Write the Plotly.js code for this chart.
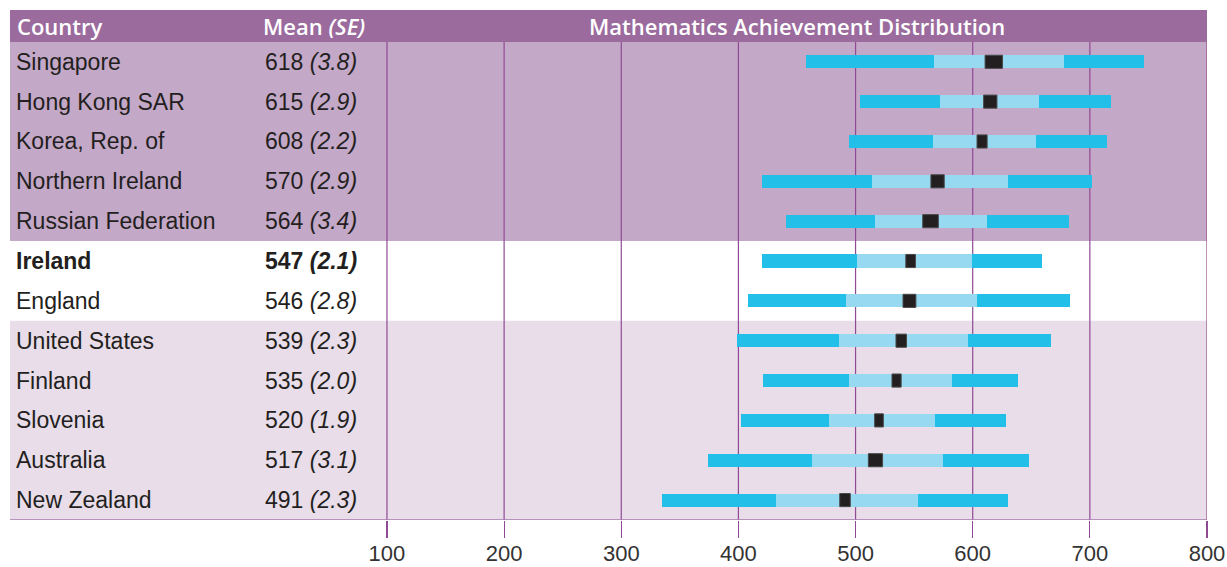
<!DOCTYPE html>
<html><head><meta charset="utf-8">
<script src="https://cdn.plot.ly/plotly-3.0.1.min.js"></script>
<style>html,body{margin:0;padding:0;background:#fff}#chart{width:1227px;height:567px}</style>
</head><body><div id="chart"></div>
<script>
// ---- data ----
const countries = ["Singapore","Hong Kong SAR","Korea, Rep. of","Northern Ireland","Russian Federation","Ireland","England","United States","Finland","Slovenia","Australia","New Zealand"];
const means = [618,615,608,570,564,547,546,539,535,520,517,491];
const se    = [3.8,2.9,2.2,2.9,3.4,2.1,2.8,2.3,2.0,1.9,3.1,2.3];
const p5    = [458,504,494,420,441,420,408,399,421,402,374,335];
const p25   = [567,572,566,514,517,501,492,486,494,477,463,432];
const p75   = [678,657,654,630,612,599,604,596,582,568,575,553];
const p95   = [746,718,715,702,682,659,683,667,639,628,648,630];
const tickVals = [100,200,300,400,500,600,700,800];
const highlight = "Ireland";
const topGroup = ["Singapore","Hong Kong SAR","Korea, Rep. of","Northern Ireland","Russian Federation"];
const bottomGroup = ["United States","Finland","Slovenia","Australia","New Zealand"];

// ---- styles ----
const C = {
  header:"#9b6b9e", top:"#c4a8c8", bottom:"#e8dde9",
  dark:"#22c0e8", light:"#97d9f1", mean:"#231f20",
  grid:"#904a95", text:"#231f20"
};
const FONT = "Liberation Sans, Arial, sans-serif";
const HFONT = "Open Sans, Liberation Sans, sans-serif";
const BW = 0.33;

function seg(base, len, color, line) {
  return {type:"bar", orientation:"h", y:countries, base:base, x:len, width:BW,
    marker:{color:color, line:line||{width:0}}, hoverinfo:"skip", showlegend:false};
}
const ci = se.map(s => 1.96*s);
const traces = [
  seg(p5, p25.map((v,i)=>v-p5[i]), C.dark),
  seg(p25, p75.map((v,i)=>v-p25[i]), C.light),
  seg(p75, p95.map((v,i)=>v-p75[i]), C.dark),
  seg(means.map((m,i)=>m-ci[i]), ci.map(c=>2*c), C.mean, {width:1, color:"#4a4a4a"})
];

const n = countries.length;
const idx = c => countries.indexOf(c);
const shapes = [];
shapes.push({type:"rect", xref:"paper", yref:"y", x0:0, x1:1, y0:-1.3, y1:-0.5, fillcolor:C.header, line:{width:0}, layer:"below"});
shapes.push({type:"rect", xref:"paper", yref:"y", x0:0, x1:1, y0:idx(topGroup[0])-0.5, y1:idx(topGroup[topGroup.length-1])+0.5, fillcolor:C.top, line:{width:0}, layer:"below"});
shapes.push({type:"rect", xref:"paper", yref:"y", x0:0, x1:1, y0:idx(bottomGroup[0])-0.5, y1:idx(bottomGroup[bottomGroup.length-1])+0.5, fillcolor:C.bottom, line:{width:0}, layer:"below"});
tickVals.forEach(v => shapes.push({type:"line", xref:"x", yref:"y", x0:v, x1:v, y0:-0.5, y1:n-0.5, line:{color:C.grid, width:1.2}, layer:"below"}));
shapes.push({type:"line", xref:"paper", yref:"y", x0:0, x1:1, y0:n-0.5, y1:n-0.5, line:{color:"#a57aae", width:1.5}, layer:"above"});

const annotations = [];
const hdrFont = {family:HFONT, size:22, color:"#ffffff", weight:600};
annotations.push({xref:"paper", yref:"y", x:0.004, y:-0.9, xanchor:"left", yanchor:"middle", text:"Country", showarrow:false, font:hdrFont});
annotations.push({xref:"paper", yref:"y", x:0.2985, y:-0.9, xanchor:"right", yanchor:"middle", text:"Mean <i>(SE)</i>", showarrow:false, font:hdrFont});
annotations.push({xref:"x", yref:"y", x:(tickVals[0]+tickVals[tickVals.length-1])/2, y:-0.9, xanchor:"center", yanchor:"middle", text:"Mathematics Achievement Distribution", showarrow:false, font:hdrFont});
countries.forEach((c,i) => {
  const b = c === highlight;
  const f = {family:FONT, size:23, color:C.text};
  annotations.push({xref:"paper", yref:"y", x:0.0035, y:i, xanchor:"left", yanchor:"middle", showarrow:false, font:f,
    text: b ? "<b>"+c+"</b>" : c});
  const t = means[i] + " <i>(" + se[i].toFixed(1) + ")</i>";
  annotations.push({xref:"paper", yref:"y", x:0.2917, y:i, xanchor:"right", yanchor:"middle", showarrow:false, font:f,
    text: b ? "<b>"+t+"</b>" : t});
});

const layout = {
  width:1227, height:567,
  margin:{l:10, r:20, t:10, b:47},
  paper_bgcolor:"#ffffff", plot_bgcolor:"rgba(0,0,0,0)",
  barmode:"overlay", bargap:0,
  showlegend:false,
  xaxis:{range:[-221.8, 800], tickvals:tickVals, ticks:"outside", ticklen:17, tickwidth:1.2, tickcolor:C.grid,
    ticklabelstandoff:-3,
    showgrid:false, zeroline:false, showline:false, fixedrange:true,
    tickfont:{family:FONT, size:22, color:"#333333"}},
  yaxis:{type:"category", categoryarray:countries, range:[n-0.5, -1.3], showticklabels:false, ticks:"",
    showgrid:false, zeroline:false, showline:false, fixedrange:true},
  shapes:shapes, annotations:annotations
};
Plotly.newPlot("chart", traces, layout, {displayModeBar:false, staticPlot:true});
</script></body></html>
